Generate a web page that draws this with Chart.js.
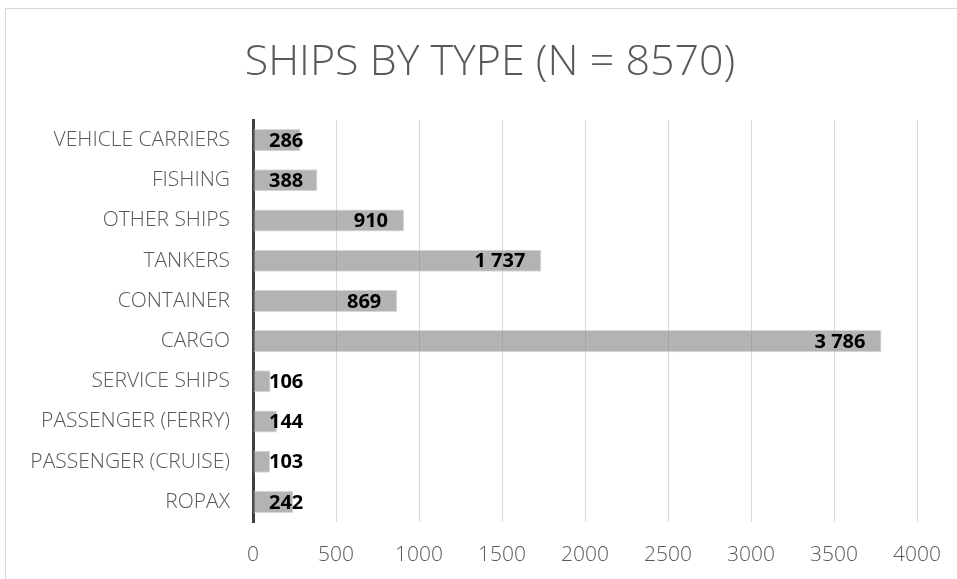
<!DOCTYPE html>
<html>
<head>
<meta charset="utf-8">
<script src="https://cdn.jsdelivr.net/npm/chart.js@4.4.1/dist/chart.umd.min.js"></script>
<style>
    body { margin: 0; background: #fff; }
    #wrap { position: relative; width: 957px; height: 579px; overflow: hidden; }
    #frame { position: absolute; left: 5px; top: 8px; width: 980px; height: 600px; border: 1px solid #d9d9d9; pointer-events: none; }
</style>
</head>
<body>
<div id="wrap">
    <canvas id="shipsChart" width="957" height="579"></canvas>
    <div id="frame"></div>
</div>
<script>
// data, top to bottom
const shipTypes = ['VEHICLE CARRIERS', 'FISHING', 'OTHER SHIPS', 'TANKERS', 'CONTAINER', 'CARGO',
    'SERVICE SHIPS', 'PASSENGER (FERRY)', 'PASSENGER (CRUISE)', 'ROPAX'];
const shipCounts = [286, 388, 910, 1737, 869, 3786, 106, 144, 103, 242];
const xTicks = [0, 500, 1000, 1500, 2000, 2500, 3000, 3500, 4000];
const chartTitle = 'SHIPS BY TYPE (N = 8570)';

function fmt(v) {
    return v.toString().replace(/\B(?=(\d{3})+(?!\d))/g, ' ');
}

// title sits a bit right of the canvas centre in the original, so draw it by hand
const titlePlugin = {
    id: 'offsetTitle',
    afterDraw(chart) {
        const ctx = chart.ctx;
        ctx.save();
        ctx.font = '300 43px "Open Sans"';
        ctx.fillStyle = '#595959';
        ctx.textAlign = 'center';
        ctx.textBaseline = 'middle';
        ctx.fillText(chartTitle, 490, 63);
        ctx.restore();
    }
};

// Excel-style "inside end" labels, kept off the axis for short bars
const valueLabels = {
    id: 'valueLabels',
    afterDatasetsDraw(chart) {
        const ctx = chart.ctx;
        const meta = chart.getDatasetMeta(0);
        const base = chart.scales.x.getPixelForValue(0);
        ctx.save();
        ctx.font = 'bold 20px "Open Sans"';
        ctx.fillStyle = '#000';
        ctx.textAlign = 'right';
        ctx.textBaseline = 'middle';
        meta.data.forEach((bar, i) => {
            const text = fmt(shipCounts[i]);
            const w = ctx.measureText(text).width;
            const right = Math.max(bar.x - 16, base + 16 + w);
            ctx.fillText(text, right, bar.y + 1);
        });
        ctx.restore();
    }
};

const config = {
    type: 'bar',
    data: {
        labels: shipTypes,
        datasets: [{
            data: shipCounts,
            backgroundColor: 'rgba(128,128,128,0.6)',
            borderColor: 'rgba(200,200,200,0.7)',
            borderWidth: 1,
            borderSkipped: false,
            categoryPercentage: 1,
            barPercentage: 0.55,
        }]
    },
    options: {
        indexAxis: 'y',
        responsive: false,
        animation: false,
        devicePixelRatio: 1,
        layout: {
            padding: {left: 0, right: 40, top: 120, bottom: 0}
        },
        scales: {
            x: {
                min: 0,
                max: 4000,
                afterBuildTicks: function (scale) {
                    scale.ticks = xTicks.map(v => ({value: v}));
                },
                afterFit: function (scale) {
                    scale.height = 57;
                    // the layout padding already leaves room for "4000"
                    scale.paddingLeft = 0;
                    scale.paddingRight = 0;
                },
                grid: {
                    color: '#d9d9d9',
                    lineWidth: 1,
                    drawTicks: false
                },
                border: {display: false},
                ticks: {
                    padding: 20,
                    color: '#595959',
                    font: {family: 'Open Sans', size: 21, weight: 300},
                    callback: function (value) {
                        return String(value);
                    }
                }
            },
            y: {
                z: 1,
                afterFit: function (scale) {
                    scale.width = 253;
                },
                grid: {display: false, drawTicks: false},
                border: {display: true, color: '#404040', width: 3},
                ticks: {
                    padding: 23,
                    color: '#595959',
                    font: {family: 'Open Sans', size: 21, weight: 300}
                }
            }
        },
        plugins: {
            legend: {display: false},
            tooltip: {enabled: false},
            title: {display: false}
        }
    },
    plugins: [valueLabels, titlePlugin]
};

const shipsChart = new Chart(document.getElementById('shipsChart'), config);
</script>
</body>
</html>
